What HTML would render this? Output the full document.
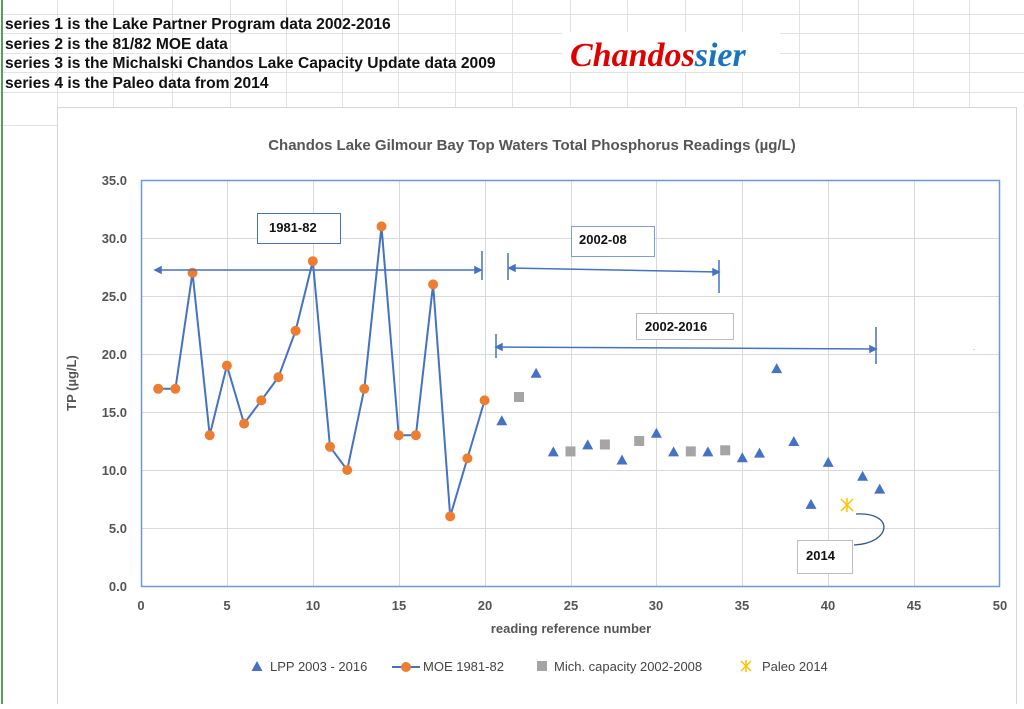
<!DOCTYPE html>
<html><head><meta charset="utf-8"><style>
body{margin:0;width:1024px;height:704px;overflow:hidden;background:#fff;font-family:"Liberation Sans",sans-serif}
</style></head><body>
<svg width="1024" height="704" xmlns="http://www.w3.org/2000/svg" font-family="Liberation Sans, sans-serif">
<g stroke="#e2e2e2" stroke-width="1">
<line x1="0" y1="14.5" x2="1024" y2="14.5"/><line x1="0" y1="33.5" x2="1024" y2="33.5"/><line x1="0" y1="53.5" x2="1024" y2="53.5"/><line x1="0" y1="72.5" x2="1024" y2="72.5"/><line x1="0" y1="92.5" x2="1024" y2="92.5"/>
<line x1="57.5" y1="0" x2="57.5" y2="107"/><line x1="113.5" y1="0" x2="113.5" y2="107"/><line x1="172.5" y1="0" x2="172.5" y2="107"/><line x1="230.5" y1="0" x2="230.5" y2="107"/><line x1="286.5" y1="0" x2="286.5" y2="107"/><line x1="342.5" y1="0" x2="342.5" y2="107"/><line x1="398.5" y1="0" x2="398.5" y2="107"/><line x1="455.5" y1="0" x2="455.5" y2="107"/><line x1="512.5" y1="0" x2="512.5" y2="107"/><line x1="570.5" y1="0" x2="570.5" y2="107"/><line x1="627.5" y1="0" x2="627.5" y2="107"/><line x1="685.5" y1="0" x2="685.5" y2="107"/><line x1="742.5" y1="0" x2="742.5" y2="107"/><line x1="799.5" y1="0" x2="799.5" y2="107"/><line x1="858.5" y1="0" x2="858.5" y2="107"/><line x1="913.5" y1="0" x2="913.5" y2="107"/><line x1="969.5" y1="0" x2="969.5" y2="107"/>
<line x1="1016.5" y1="107" x2="1016.5" y2="704"/><line x1="0" y1="125.5" x2="57" y2="125.5"/>
</g>
<line x1="2" y1="0" x2="2" y2="704" stroke="#5a9a5a" stroke-width="2"/>
<rect x="57.5" y="107.5" width="959" height="600" fill="#fff" stroke="#d6d6d6"/>
<g font-size="15.6" font-weight="bold" fill="#111">
<text x="5" y="29">series 1 is the Lake Partner Program data 2002-2016</text>
<text x="5" y="49">series 2 is the 81/82 MOE data</text>
<text x="5" y="68">series 3 is the Michalski Chandos Lake Capacity Update data 2009</text>
<text x="5" y="88">series 4 is the Paleo data from 2014</text>
</g>
<rect x="562" y="32" width="218" height="40" fill="#fff"/>
<text x="570" y="66" font-family="Liberation Serif, serif" font-style="italic" font-weight="bold" font-size="34" fill="#e00000">Chandos<tspan fill="#1a73c0">sier</tspan></text>

<text x="532" y="150" text-anchor="middle" font-size="15" font-weight="bold" fill="#555">Chandos Lake Gilmour Bay Top Waters Total Phosphorus Readings  (µg/L)</text>
<g stroke="#d9d9d9">
<line x1="141" y1="238.5" x2="1000" y2="238.5"/><line x1="141" y1="296.5" x2="1000" y2="296.5"/><line x1="141" y1="354.5" x2="1000" y2="354.5"/><line x1="141" y1="412.5" x2="1000" y2="412.5"/><line x1="141" y1="470.5" x2="1000" y2="470.5"/><line x1="141" y1="528.5" x2="1000" y2="528.5"/>
<line x1="227.5" y1="180" x2="227.5" y2="586"/><line x1="313.5" y1="180" x2="313.5" y2="586"/><line x1="399.5" y1="180" x2="399.5" y2="586"/><line x1="485.5" y1="180" x2="485.5" y2="586"/><line x1="571.5" y1="180" x2="571.5" y2="586"/><line x1="656.5" y1="180" x2="656.5" y2="586"/><line x1="742.5" y1="180" x2="742.5" y2="586"/><line x1="828.5" y1="180" x2="828.5" y2="586"/><line x1="914.5" y1="180" x2="914.5" y2="586"/>
<line x1="141" y1="586.5" x2="1000" y2="586.5"/>
</g>
<rect x="141.5" y="180.5" width="858" height="406" fill="none" stroke="#6f97e0" stroke-width="1.5"/>
<g font-size="13" font-weight="bold" fill="#555" text-anchor="end">
<text x="127" y="185">35.0</text><text x="127" y="243">30.0</text><text x="127" y="301">25.0</text><text x="127" y="359">20.0</text><text x="127" y="417">15.0</text><text x="127" y="475">10.0</text><text x="127" y="533">5.0</text><text x="127" y="591">0.0</text>
</g>
<g font-size="13" font-weight="bold" fill="#555" text-anchor="middle">
<text x="141" y="610">0</text><text x="227" y="610">5</text><text x="313" y="610">10</text><text x="399" y="610">15</text><text x="485" y="610">20</text><text x="571" y="610">25</text><text x="656" y="610">30</text><text x="742" y="610">35</text><text x="828" y="610">40</text><text x="914" y="610">45</text><text x="1000" y="610">50</text>
<text x="571" y="633">reading  reference number</text>
</g>
<text transform="translate(76,383) rotate(-90)" text-anchor="middle" font-size="13" font-weight="bold" fill="#555">TP (µg/L)</text>

<polyline fill="none" stroke="#4472c4" stroke-width="2" points="158.2,388.8 175.4,388.8 192.5,272.8 209.7,435.2 226.9,365.6 244.1,423.6 261.3,400.4 278.4,377.2 295.6,330.8 312.8,261.2 330,446.8 347.2,470 364.3,388.8 381.5,226.4 398.7,435.2 415.9,435.2 433.1,284.4 450.2,516.4 467.4,458.4 484.6,400.4"/>
<g fill="#ed7d31">
<circle cx="158.2" cy="388.8" r="5"/><circle cx="175.4" cy="388.8" r="5"/><circle cx="192.5" cy="272.8" r="5"/><circle cx="209.7" cy="435.2" r="5"/><circle cx="226.9" cy="365.6" r="5"/><circle cx="244.1" cy="423.6" r="5"/><circle cx="261.3" cy="400.4" r="5"/><circle cx="278.4" cy="377.2" r="5"/><circle cx="295.6" cy="330.8" r="5"/><circle cx="312.8" cy="261.2" r="5"/><circle cx="330" cy="446.8" r="5"/><circle cx="347.2" cy="470" r="5"/><circle cx="364.3" cy="388.8" r="5"/><circle cx="381.5" cy="226.4" r="5"/><circle cx="398.7" cy="435.2" r="5"/><circle cx="415.9" cy="435.2" r="5"/><circle cx="433.1" cy="284.4" r="5"/><circle cx="450.2" cy="516.4" r="5"/><circle cx="467.4" cy="458.4" r="5"/><circle cx="484.6" cy="400.4" r="5"/>
</g>
<g fill="#4472c4">
<path d="M501.8,415.3 l-5.5,10 h11z"/><path d="M536.1,367.7 l-5.5,10 h11z"/><path d="M553.3,446.4 l-5.5,10 h11z"/><path d="M587.7,439.4 l-5.5,10 h11z"/><path d="M622,454.5 l-5.5,10 h11z"/><path d="M656.4,427.8 l-5.5,10 h11z"/><path d="M673.6,446.4 l-5.5,10 h11z"/><path d="M707.9,446.4 l-5.5,10 h11z"/><path d="M742.3,452.2 l-5.5,10 h11z"/><path d="M759.5,447.6 l-5.5,10 h11z"/><path d="M776.7,363.1 l-5.5,10 h11z"/><path d="M793.8,436 l-5.5,10 h11z"/><path d="M811,498.9 l-5.5,10 h11z"/><path d="M828.2,456.9 l-5.5,10 h11z"/><path d="M862.6,470.8 l-5.5,10 h11z"/><path d="M879.7,483.6 l-5.5,10 h11z"/>
</g>
<g fill="#a5a5a5">
<rect x="514" y="392" width="10" height="10"/><rect x="565.5" y="446.4" width="10" height="10"/><rect x="599.9" y="439.5" width="10" height="10"/><rect x="634.2" y="436" width="10" height="10"/><rect x="685.8" y="446.4" width="10" height="10"/><rect x="720.2" y="445.3" width="10" height="10"/>
</g>
<g stroke="#ffc000" stroke-width="1.5"><line x1="841" y1="499" x2="853" y2="511"/><line x1="853" y1="499" x2="841" y2="511"/><line x1="847" y1="498" x2="847" y2="512"/></g>

<g stroke="#4472c4" stroke-width="1.5" fill="#4472c4">
<line x1="155" y1="270" x2="481" y2="270"/><path d="M155,270 l6,-3 v6z"/><path d="M481,270 l-6,-3 v6z"/><line x1="482" y1="251" x2="482" y2="280"/>
<line x1="509" y1="268" x2="719" y2="272"/><line x1="508" y1="253" x2="508" y2="280"/><path d="M509,268 l6,-3 v6z"/><path d="M719,272 l-6,-3 v6z"/><line x1="719" y1="260" x2="719" y2="293"/>
<line x1="496" y1="347" x2="876" y2="349"/><line x1="496" y1="334" x2="496" y2="358"/><path d="M496,347 l6,-3 v6z"/><path d="M876,349 l-6,-3 v6z"/><line x1="876" y1="327" x2="876" y2="364"/>
</g>
<path d="M856,514 C895,512 892,543 854,545" fill="none" stroke="#2f5597" stroke-width="1.3"/>
<g font-size="13" font-weight="bold" fill="#111">
<rect x="257.5" y="213.5" width="83" height="30" fill="#fff" stroke="#4472c4"/><text x="269" y="232">1981-82</text>
<rect x="571.5" y="226.5" width="83" height="30" fill="#fff" stroke="#7a9ee0"/><text x="579" y="244">2002-08</text>
<rect x="636.5" y="313.5" width="97" height="26" fill="#fff" stroke="#bdbdbd"/><text x="645" y="331">2002-2016</text>
<rect x="797.5" y="540.5" width="55" height="33" fill="#fff" stroke="#bdbdbd"/><text x="806" y="560">2014</text>
</g>
<text x="973" y="350" font-size="8" fill="#888">.</text>

<g font-size="13" fill="#444">
<path d="M257,661 l-5.5,10 h11z" fill="#4472c4"/><text x="270" y="671">LPP 2003 - 2016</text>
<line x1="392" y1="667" x2="420" y2="667" stroke="#4472c4" stroke-width="2"/><circle cx="406" cy="667" r="5" fill="#ed7d31"/><text x="423" y="671">MOE 1981-82</text>
<rect x="537" y="661" width="10" height="10" fill="#a5a5a5"/><text x="554" y="671">Mich. capacity 2002-2008</text>
<g stroke="#ffc000" stroke-width="1.5"><line x1="741" y1="661" x2="751" y2="671"/><line x1="751" y1="661" x2="741" y2="671"/><line x1="746" y1="660" x2="746" y2="672"/></g><text x="762" y="671">Paleo 2014</text>
</g>
</svg>
</body></html>
